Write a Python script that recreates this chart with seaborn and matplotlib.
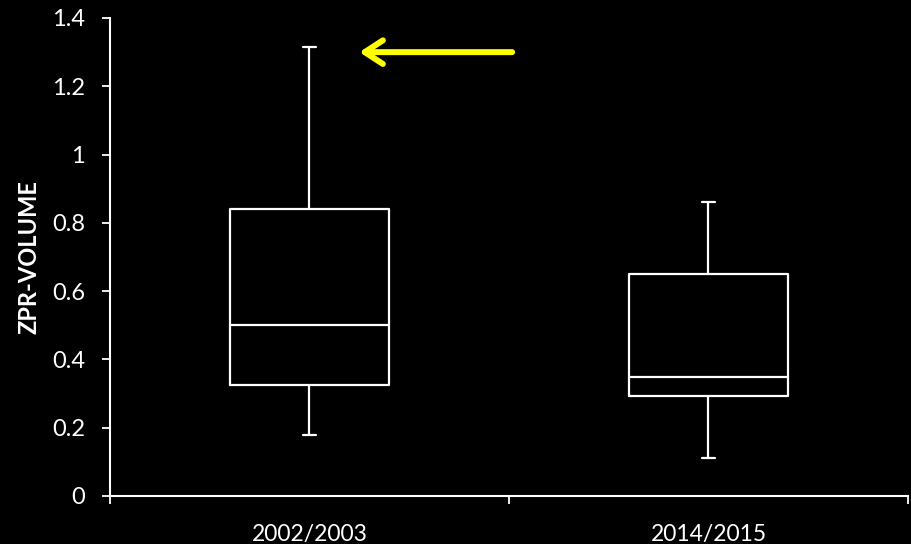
import matplotlib
matplotlib.use("Agg")
import matplotlib.pyplot as plt
import seaborn as sns
import pandas as pd
import numpy as np
from matplotlib.ticker import FixedLocator

# Five-number summaries (min, Q1, median, Q3, max)
categories = ["2002/2003", "2014/2015"]
summary_2002 = [0.18, 0.325, 0.50, 0.84, 1.315]
summary_2014 = [0.11, 0.293, 0.35, 0.65, 0.86]
y_ticks = [0, 0.2, 0.4, 0.6, 0.8, 1, 1.2, 1.4]
y_tick_labels = ["0", "0.2", "0.4", "0.6", "0.8", "1", "1.2", "1.4"]
arrow_y = 1.30

df = pd.DataFrame({
    "period": [categories[0]] * len(summary_2002) + [categories[1]] * len(summary_2014),
    "value": summary_2002 + summary_2014,
})

sns.set_style("dark")
plt.rcParams["font.family"] = ["Lato", "DejaVu Sans"]

fig = plt.figure(figsize=(9.12, 5.44), dpi=100, facecolor="black")
ax = fig.add_axes([110 / 912, 48 / 544, 798 / 912, 478 / 544])
ax.set_facecolor("black")

sns.boxplot(data=df, x="period", y="value", order=categories, ax=ax,
            whis=(0, 100), width=0.4, fill=False, color="white",
            linewidth=1.6, capwidths=0.035)

ax.set_xlim(-0.5, 1.5)
ax.set_ylim(0, 1.4)
ax.set_yticks(y_ticks)
ax.set_yticklabels(y_tick_labels)
ax.set_xticks([0, 1])
ax.set_xticklabels(categories)
ax.xaxis.set_minor_locator(FixedLocator([-0.5, 0.5, 1.5]))
ax.tick_params(axis="x", which="major", length=0, labelsize=16.5, colors="white", pad=20)
ax.tick_params(axis="x", which="minor", length=6, width=1.3, color="white", direction="out", bottom=True)
ax.tick_params(axis="y", length=6, width=1.3, color="white", labelsize=17, labelcolor="white", pad=12, left=True)

for side in ["top", "right"]:
    ax.spines[side].set_visible(False)
for side in ["left", "bottom"]:
    ax.spines[side].set_visible(True)
    ax.spines[side].set_color("white")
    ax.spines[side].set_linewidth(1.5)
ax.grid(False)

ax.set_xlabel("")
ax.set_ylabel("ZPR-VOLUME", color="white", fontsize=17, fontweight="bold", labelpad=8)

ax.annotate("", xy=(0.125, arrow_y), xytext=(0.508, arrow_y),
            arrowprops=dict(arrowstyle="->,head_length=1.3,head_width=0.85",
                            color="#FFFF00", lw=4.3, shrinkA=0, shrinkB=0))

fig.savefig("out.png", dpi=100, facecolor="black")
